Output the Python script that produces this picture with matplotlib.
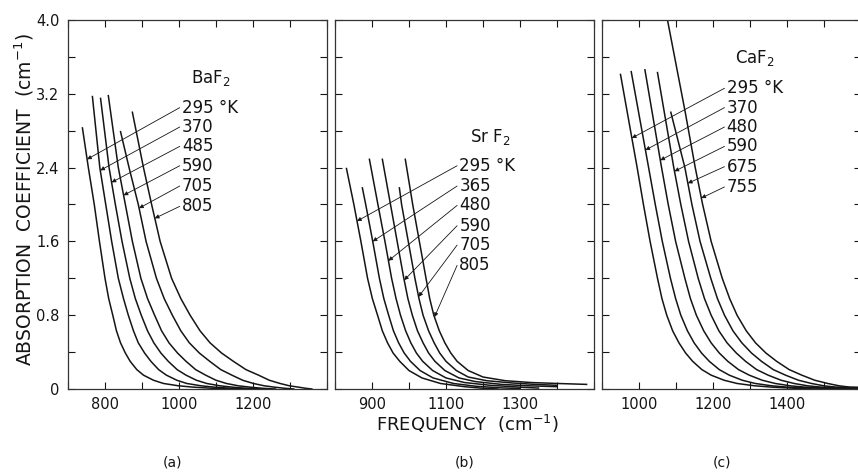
import matplotlib
matplotlib.use('Agg')
import matplotlib.pyplot as plt
import numpy as np

plt.rcParams['font.family'] = 'DejaVu Sans'

# (a) BaF2 : frequency (cm^-1) along each curve at the listed absorption levels (cm^-1)
baf2_labels = ['295 °K', '370', '485', '590', '705', '805']
baf2_tops = [2.83, 3.17, 3.15, 3.18, 2.79, 3.0]
baf2_levels = [2.4, 2.0, 1.6, 1.2, 0.98, 0.8, 0.63, 0.5, 0.39, 0.3, 0.21, 0.15,
               0.095, 0.06, 0.035, 0.02, 0.008, 0.0]
baf2_f = [
    [739, 755, 771, 785, 800, 810, 821, 831, 842, 855, 868, 886, 904, 931, 958, 998, 1039, 1090, 1147],
    [766, 786, 802, 818, 836, 850, 863, 877, 890, 907, 924, 945, 966, 994, 1021, 1059, 1096, 1140, 1189],
    [788, 811, 828, 846, 867, 882, 898, 915, 932, 951, 971, 995, 1019, 1047, 1075, 1110, 1144, 1182, 1225],
    [809, 836, 855, 874, 897, 915, 934, 953, 973, 996, 1019, 1045, 1072, 1100, 1128, 1160, 1192, 1225, 1261],
    [842, 865, 890, 911, 939, 960, 982, 1005, 1028, 1055, 1083, 1113, 1143, 1172, 1201, 1230, 1258, 1285, 1310],
    [874, 904, 926, 949, 980, 1005, 1030, 1057, 1084, 1115, 1147, 1181, 1215, 1244, 1273, 1298, 1323, 1342, 1359],
]
baf2_tips = [2.49, 2.37, 2.24, 2.10, 1.96, 1.85]
baf2_text_y = [3.05, 2.84, 2.63, 2.42, 2.20, 1.98]

# (b) SrF2
srf2_labels = ['295 °K', '365', '480', '590', '705', '805']
srf2_f = [
    [831, 851, 870, 888, 901, 915, 928, 942, 957, 975, 1000, 1035, 1085, 1150, 1200, 1240],
    [874, 883, 902, 920, 932, 945, 958, 972, 987, 1004, 1030, 1065, 1120, 1180, 1250, 1300],
    [893, 916, 935, 953, 965, 977, 991, 1005, 1020, 1037, 1064, 1100, 1150, 1220, 1300, 1350],
    [928, 950, 968, 986, 997, 1009, 1023, 1038, 1053, 1070, 1097, 1135, 1180, 1250, 1320, 1400],
    [974, 980, 998, 1016, 1027, 1038, 1053, 1068, 1083, 1100, 1128, 1160, 1210, 1280, 1340, 1400],
    [990, 1010, 1028, 1046, 1056, 1067, 1082, 1097, 1113, 1130, 1160, 1200, 1260, 1330, 1400, 1480],
]
srf2_a = [
    [2.39, 2.0, 1.6, 1.2, 0.98, 0.8, 0.63, 0.5, 0.39, 0.3, 0.2, 0.12, 0.06, 0.025, 0.008, 0.0],
    [2.18, 2.0, 1.6, 1.2, 0.98, 0.8, 0.63, 0.5, 0.39, 0.3, 0.2, 0.12, 0.06, 0.03, 0.012, 0.005],
    [2.49, 2.0, 1.6, 1.2, 0.98, 0.8, 0.63, 0.5, 0.39, 0.3, 0.2, 0.12, 0.07, 0.04, 0.02, 0.01],
    [2.49, 2.0, 1.6, 1.2, 0.98, 0.8, 0.63, 0.5, 0.39, 0.3, 0.2, 0.12, 0.08, 0.05, 0.035, 0.025],
    [2.18, 2.0, 1.6, 1.2, 0.98, 0.8, 0.63, 0.5, 0.39, 0.3, 0.2, 0.13, 0.09, 0.065, 0.05, 0.04],
    [2.49, 2.0, 1.6, 1.2, 0.98, 0.8, 0.63, 0.5, 0.39, 0.3, 0.2, 0.13, 0.09, 0.07, 0.06, 0.05],
]
srf2_tips = [1.82, 1.60, 1.39, 1.18, 1.0, 0.78]
srf2_text_y = [2.42, 2.20, 1.99, 1.77, 1.56, 1.34]

# (c) CaF2
caf2_labels = ['295 °K', '370', '480', '590', '675', '755']
caf2_f = [
    [950, 995, 1012, 1030, 1050, 1062, 1075, 1091, 1108, 1126, 1145, 1170, 1195, 1230, 1265, 1312, 1360, 1420, 1480, 1600],
    [979, 1026, 1044, 1063, 1085, 1099, 1113, 1131, 1149, 1169, 1190, 1217, 1244, 1279, 1314, 1358, 1402, 1500, 1600],
    [1016, 1061, 1079, 1099, 1124, 1139, 1155, 1175, 1195, 1217, 1240, 1269, 1298, 1333, 1368, 1408, 1448, 1525, 1600],
    [1050, 1094, 1113, 1134, 1160, 1177, 1195, 1216, 1238, 1263, 1288, 1318, 1349, 1384, 1419, 1455, 1492, 1546, 1600],
    [1086, 1124, 1143, 1165, 1194, 1212, 1231, 1254, 1278, 1304, 1331, 1363, 1396, 1431, 1466, 1499, 1532, 1566, 1600],
    [1063, 1077, 1101, 1125, 1152, 1172, 1195, 1225, 1245, 1265, 1290, 1315, 1343, 1372, 1406, 1440, 1475, 1510, 1540, 1570, 1600],
]
caf2_a = [
    [3.41, 2.4, 2.0, 1.6, 1.2, 0.98, 0.8, 0.63, 0.5, 0.39, 0.3, 0.21, 0.15, 0.095, 0.06, 0.035, 0.02, 0.008, 0.0, 0.0],
    [3.44, 2.4, 2.0, 1.6, 1.2, 0.98, 0.8, 0.63, 0.5, 0.39, 0.3, 0.21, 0.15, 0.095, 0.06, 0.035, 0.02, 0.008, 0.003],
    [3.46, 2.4, 2.0, 1.6, 1.2, 0.98, 0.8, 0.63, 0.5, 0.39, 0.3, 0.21, 0.15, 0.095, 0.06, 0.035, 0.02, 0.011, 0.006],
    [3.43, 2.4, 2.0, 1.6, 1.2, 0.98, 0.8, 0.63, 0.5, 0.39, 0.3, 0.21, 0.15, 0.095, 0.06, 0.035, 0.02, 0.014, 0.01],
    [3.0, 2.4, 2.0, 1.6, 1.2, 0.98, 0.8, 0.63, 0.5, 0.39, 0.3, 0.21, 0.15, 0.095, 0.06, 0.035, 0.02, 0.017, 0.014],
    [4.3, 4.0, 3.5, 3.0, 2.4, 2.0, 1.6, 1.2, 0.98, 0.8, 0.63, 0.5, 0.39, 0.3, 0.21, 0.15, 0.095, 0.06, 0.035, 0.02, 0.018],
]
caf2_tips = [2.72, 2.59, 2.48, 2.36, 2.23, 2.07]
caf2_text_y = [3.26, 3.05, 2.84, 2.63, 2.41, 2.19]

baf2_a = [[t] + baf2_levels for t in baf2_tops]

ink = '#151515'

panels = [
    dict(left=68, xlim=(700, 1400), xt=[800, 1000, 1200], f=baf2_f, a=baf2_a,
         labels=baf2_labels, tips=baf2_tips, ty=baf2_text_y, tx=1008,
         name='BaF$_2$', name_xy=(1032, 3.37), cap='(a)', cap_x=172),
    dict(left=335, xlim=(800, 1500), xt=[900, 1100, 1300], f=srf2_f, a=srf2_a,
         labels=srf2_labels, tips=srf2_tips, ty=srf2_text_y, tx=1136,
         name='Sr F$_2$', name_xy=(1165, 2.73), cap='(b)', cap_x=465),
    dict(left=602, xlim=(900, 1600), xt=[1000, 1200, 1400], f=caf2_f, a=caf2_a,
         labels=caf2_labels, tips=caf2_tips, ty=caf2_text_y, tx=1237,
         name='CaF$_2$', name_xy=(1260, 3.59), cap='(c)', cap_x=722),
]

W, H = 858, 474
fig = plt.figure(figsize=(W / 100, H / 100), dpi=100)

for i, p in enumerate(panels):
    ax = fig.add_axes([p['left'] / W, (H - 389) / H, 259 / W, 369 / H])
    for f, a in zip(p['f'], p['a']):
        ax.plot(f, a, color=ink, lw=1.1, solid_joinstyle='round')
    ax.set_xlim(*p['xlim'])
    ax.set_ylim(0, 4.0)
    ax.set_xticks(p['xt'])
    ax.set_xticks(np.arange(p['xlim'][0], p['xlim'][1] + 1, 100), minor=True)
    ax.set_yticks([0, 0.8, 1.6, 2.4, 3.2, 4.0])
    ax.set_yticks([0.4, 1.2, 2.0, 2.8, 3.6], minor=True)
    ax.tick_params(which='both', direction='in', length=5, width=0.8,
                   top=True, right=True, colors=ink, labelsize=10.5, pad=6)
    if i == 0:
        ax.set_yticklabels(['0', '0.8', '1.6', '2.4', '3.2', '4.0'])
    else:
        ax.set_yticklabels([])
    for s in ax.spines.values():
        s.set_linewidth(0.9)
        s.set_color('#333333')

    for lab, f, a, tip, ty in zip(p['labels'], p['f'], p['a'], p['tips'], p['ty']):
        tip_x = np.interp(tip, a[::-1], f[::-1])
        ax.annotate('', xy=(tip_x, tip), xytext=(p['tx'] - 6, ty),
                    arrowprops=dict(arrowstyle='-|>', lw=0.6, color=ink,
                                    mutation_scale=6, shrinkA=0, shrinkB=0))
        ax.text(p['tx'], ty, lab, fontsize=12, color=ink, ha='left', va='center')
    ax.text(p['name_xy'][0], p['name_xy'][1], p['name'], fontsize=12, color=ink,
            ha='left', va='center')

    fig.text(p['cap_x'] / W, 1 - 463 / H, p['cap'], fontsize=10, color=ink,
             ha='center', va='center')

fig.text(24 / W, 1 - 200 / H, 'ABSORPTION  COEFFICIENT  (cm$^{-1}$)', rotation=90,
         fontsize=13.5, color=ink, ha='center', va='center')
fig.text(467 / W, 1 - 424 / H, 'FREQUENCY  (cm$^{-1}$)', fontsize=13, color=ink,
         ha='center', va='center')

fig.savefig('out.png', dpi=100)
